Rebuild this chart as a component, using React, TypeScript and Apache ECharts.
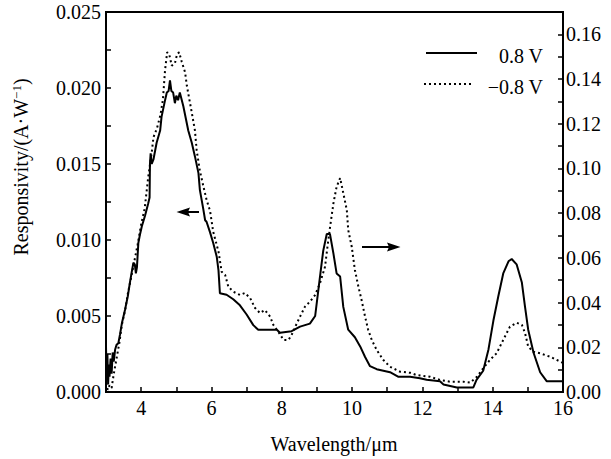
import React, { useEffect, useRef } from "react";
import * as echarts from "echarts";

const seriesNames = ["0.8 V", "−0.8 V"];

// Solid curve (0.8 V), left axis, A/W
const solidX = [3.0, 3.02, 3.04, 3.06, 3.08, 3.1, 3.13, 3.16, 3.19, 3.22, 3.26, 3.3, 3.35, 3.4, 3.45, 3.54, 3.62, 3.68, 3.74, 3.78, 3.82, 3.85, 3.88, 3.92, 3.97, 4.02, 4.11, 4.2, 4.24, 4.25, 4.27, 4.3, 4.35, 4.44, 4.54, 4.58, 4.68, 4.73, 4.78, 4.82, 4.86, 4.91, 4.96, 5.0, 5.05, 5.1, 5.2, 5.34, 5.44, 5.53, 5.63, 5.67, 5.77, 5.82, 5.86, 5.96, 6.05, 6.15, 6.2, 6.24, 6.43, 6.62, 6.81, 7.0, 7.19, 7.33, 7.86, 7.95, 8.28, 8.52, 8.8, 8.95, 9.04, 9.12, 9.18, 9.28, 9.37, 9.47, 9.56, 9.66, 9.75, 9.89, 10.08, 10.23, 10.37, 10.51, 10.7, 11.08, 11.32, 11.65, 11.93, 12.12, 12.5, 12.6, 12.98, 13.45, 13.54, 13.73, 13.88, 14.02, 14.16, 14.3, 14.45, 14.54, 14.68, 14.83, 14.92, 15.01, 15.16, 15.35, 15.54, 15.77, 15.92, 16.0];
const solidY = [0.003, 0.0008, 0.0025, 0.0005, 0.0018, 0.001, 0.0022, 0.0012, 0.0026, 0.002, 0.0028, 0.0031, 0.0032, 0.0038, 0.0045, 0.0054, 0.0063, 0.0072, 0.008, 0.0085, 0.0084, 0.0078, 0.0082, 0.0098, 0.0104, 0.0109, 0.0116, 0.0124, 0.0128, 0.015, 0.0157, 0.015, 0.0153, 0.0164, 0.0172, 0.0181, 0.0192, 0.0197, 0.0198, 0.0205, 0.0198, 0.0197, 0.019, 0.0195, 0.0192, 0.0197, 0.0188, 0.0172, 0.0164, 0.0155, 0.0144, 0.0133, 0.012, 0.0113, 0.0112, 0.0105, 0.0098, 0.0089, 0.008, 0.0065, 0.0064, 0.0061, 0.0057, 0.0051, 0.0044, 0.0041, 0.0041, 0.0039, 0.004, 0.0043, 0.0045, 0.005, 0.0067, 0.0082, 0.0093, 0.0104, 0.0104, 0.0091, 0.0078, 0.0076, 0.0056, 0.0041, 0.0036, 0.003, 0.0023, 0.0017, 0.0015, 0.0013, 0.001, 0.001, 0.0009, 0.0008, 0.0007, 0.0005, 0.0003, 0.0003, 0.0008, 0.0014, 0.0028, 0.0047, 0.0063, 0.0078, 0.0086, 0.00875, 0.0084, 0.0072, 0.0056, 0.0041, 0.0026, 0.0013, 0.0007, 0.0007, 0.0007, 0.0007];

// Dotted curve (−0.8 V), right axis, A/W
const dottedX = [3.0, 3.05, 3.1, 3.16, 3.22, 3.3, 3.38, 3.45, 3.55, 3.62, 3.7, 3.8, 3.9, 4.0, 4.1, 4.2, 4.3, 4.35, 4.45, 4.55, 4.62, 4.68, 4.74, 4.8, 4.87, 4.96, 5.02, 5.08, 5.15, 5.25, 5.3, 5.44, 5.53, 5.58, 5.67, 5.77, 5.86, 5.96, 6.05, 6.2, 6.29, 6.39, 6.48, 6.62, 6.81, 6.95, 7.1, 7.24, 7.38, 7.52, 7.67, 7.76, 7.9, 8.05, 8.19, 8.28, 8.43, 8.52, 8.66, 8.8, 8.95, 9.09, 9.23, 9.3, 9.37, 9.47, 9.56, 9.66, 9.75, 9.85, 9.89, 9.99, 10.08, 10.18, 10.27, 10.37, 10.46, 10.56, 10.7, 10.89, 11.08, 11.36, 11.65, 11.83, 12.22, 12.5, 12.79, 13.17, 13.36, 13.55, 13.73, 13.92, 14.11, 14.3, 14.49, 14.68, 14.83, 14.92, 15.01, 15.16, 15.35, 15.63, 15.92, 16.0];
const dottedY = [0.004, 0.001, 0.003, 0.0018, 0.008, 0.015, 0.022, 0.03, 0.037, 0.044, 0.05, 0.058, 0.066, 0.075, 0.082, 0.096, 0.107, 0.114, 0.118, 0.124, 0.131, 0.144, 0.152, 0.151, 0.146, 0.147, 0.151, 0.152, 0.148, 0.143, 0.137, 0.125, 0.117, 0.108, 0.099, 0.092, 0.086, 0.081, 0.0717, 0.0628, 0.0538, 0.0523, 0.0471, 0.0449, 0.0434, 0.0443, 0.042, 0.0376, 0.0353, 0.0367, 0.0337, 0.03, 0.027, 0.0233, 0.0233, 0.0255, 0.0308, 0.0337, 0.0382, 0.0404, 0.0434, 0.0488, 0.056, 0.065, 0.0734, 0.0845, 0.0918, 0.0957, 0.089, 0.0814, 0.0725, 0.065, 0.0546, 0.0471, 0.0412, 0.0337, 0.0277, 0.0233, 0.0188, 0.0143, 0.0113, 0.0091, 0.0086, 0.0076, 0.0068, 0.0054, 0.0046, 0.0046, 0.0042, 0.0068, 0.0106, 0.0143, 0.0173, 0.0233, 0.0292, 0.031, 0.03, 0.0264, 0.0203, 0.018, 0.0173, 0.0158, 0.0136, 0.013];

const xTitle = "Wavelength/μm";
const yTitle = "Responsivity/(A·W{sup|−1})";

const FONT = "Liberation Serif";
const DOT: number[] = [2, 3];

export default function App() {
  const ref = useRef<HTMLDivElement>(null);
  useEffect(() => {
    if (!ref.current) return;
    const chart = echarts.init(ref.current, null, { renderer: "svg" });
    const axisLabelStyle = { color: "#000", fontFamily: FONT, fontSize: 20 };
    chart.setOption({
      animation: false,
      backgroundColor: "#fff",
      grid: { left: 106, right: 48, top: 12, bottom: 67, show: true, borderColor: "#000", borderWidth: 2 },
      xAxis: {
        type: "value", min: 3, max: 16, interval: 1,
        axisLine: { lineStyle: { color: "#000", width: 2 } },
        axisTick: { inside: true, length: 5, lineStyle: { color: "#000", width: 1.5 } },
        axisLabel: {
          ...axisLabelStyle, margin: 6,
          formatter: (v: number) => (Math.round(v) % 2 === 0 ? String(Math.round(v)) : ""),
        },
        splitLine: { show: false },
      },
      yAxis: [
        {
          type: "value", min: 0, max: 0.025, interval: 0.0025,
          axisLine: { show: true, lineStyle: { color: "#000", width: 2 } },
          axisTick: { show: true, inside: true, length: 5, lineStyle: { color: "#000", width: 1.5 } },
          axisLabel: {
            ...axisLabelStyle, margin: 5,
            formatter: (v: number) => (Math.round(v / 0.0025) % 2 === 0 ? v.toFixed(3) : ""),
          },
          splitLine: { show: false },
        },
        {
          type: "value", position: "right", min: 0, max: 0.17, interval: 0.01,
          axisLine: { show: true, lineStyle: { color: "#000", width: 2 } },
          axisTick: { show: true, inside: true, length: 5, lineStyle: { color: "#000", width: 1.5 } },
          axisLabel: {
            ...axisLabelStyle, margin: 3,
            formatter: (v: number) => {
              const k = Math.round(v * 100);
              return k % 2 === 0 && k <= 16 ? v.toFixed(2) : "";
            },
          },
          splitLine: { show: false },
        },
      ],
      series: [
        {
          name: seriesNames[0], type: "line", yAxisIndex: 0, symbol: "none",
          data: solidX.map((x, i) => [x, solidY[i]]),
          lineStyle: { color: "#000", width: 2 }, itemStyle: { color: "#000" },
        },
        {
          name: seriesNames[1], type: "line", yAxisIndex: 1, symbol: "none",
          data: dottedX.map((x, i) => [x, dottedY[i]]),
          lineStyle: { color: "#000", width: 2, type: DOT }, itemStyle: { color: "#000" },
        },
      ],
      graphic: [
        // legend
        { type: "line", shape: { x1: 426, y1: 53, x2: 477, y2: 53 }, style: { stroke: "#000", lineWidth: 2 } },
        { type: "line", shape: { x1: 424, y1: 84, x2: 474, y2: 84 }, style: { stroke: "#000", lineWidth: 2, lineDash: DOT } },
        {
          type: "text", x: 543, y: 56,
          style: { text: seriesNames[0], fontFamily: FONT, fontSize: 20, fill: "#000", align: "right", verticalAlign: "middle" },
        },
        {
          type: "text", x: 543, y: 87,
          style: { text: seriesNames[1], fontFamily: FONT, fontSize: 20, fill: "#000", align: "right", verticalAlign: "middle" },
        },
        // arrows
        { type: "line", shape: { x1: 199, y1: 212, x2: 184, y2: 212 }, style: { stroke: "#000", lineWidth: 2 } },
        { type: "polygon", shape: { points: [[176.5, 212], [190, 207.5], [188, 212], [190, 216.5]] }, style: { fill: "#000" } },
        { type: "line", shape: { x1: 362, y1: 247, x2: 392, y2: 247 }, style: { stroke: "#000", lineWidth: 2 } },
        { type: "polygon", shape: { points: [[400.5, 247], [387, 242.5], [389, 247], [387, 251.5]] }, style: { fill: "#000" } },
        // axis titles
        {
          type: "text", x: 334, y: 444,
          style: { text: xTitle, fontFamily: FONT, fontSize: 20, fill: "#000", align: "center", verticalAlign: "middle" },
        },
        {
          type: "text", x: 21, y: 167, rotation: Math.PI / 2,
          style: {
            text: yTitle, fontFamily: FONT, fontSize: 20, fill: "#000", align: "center", verticalAlign: "middle",
            rich: { sup: { fontFamily: FONT, fontSize: 13, verticalAlign: "top", fill: "#000", padding: [0, 0, 10, 0] } },
          },
        },
      ],
    });
    return () => chart.dispose();
  }, []);
  return <div ref={ref} style={{ position: "fixed", left: 0, top: 0, width: 611, height: 459 }} />;
}
